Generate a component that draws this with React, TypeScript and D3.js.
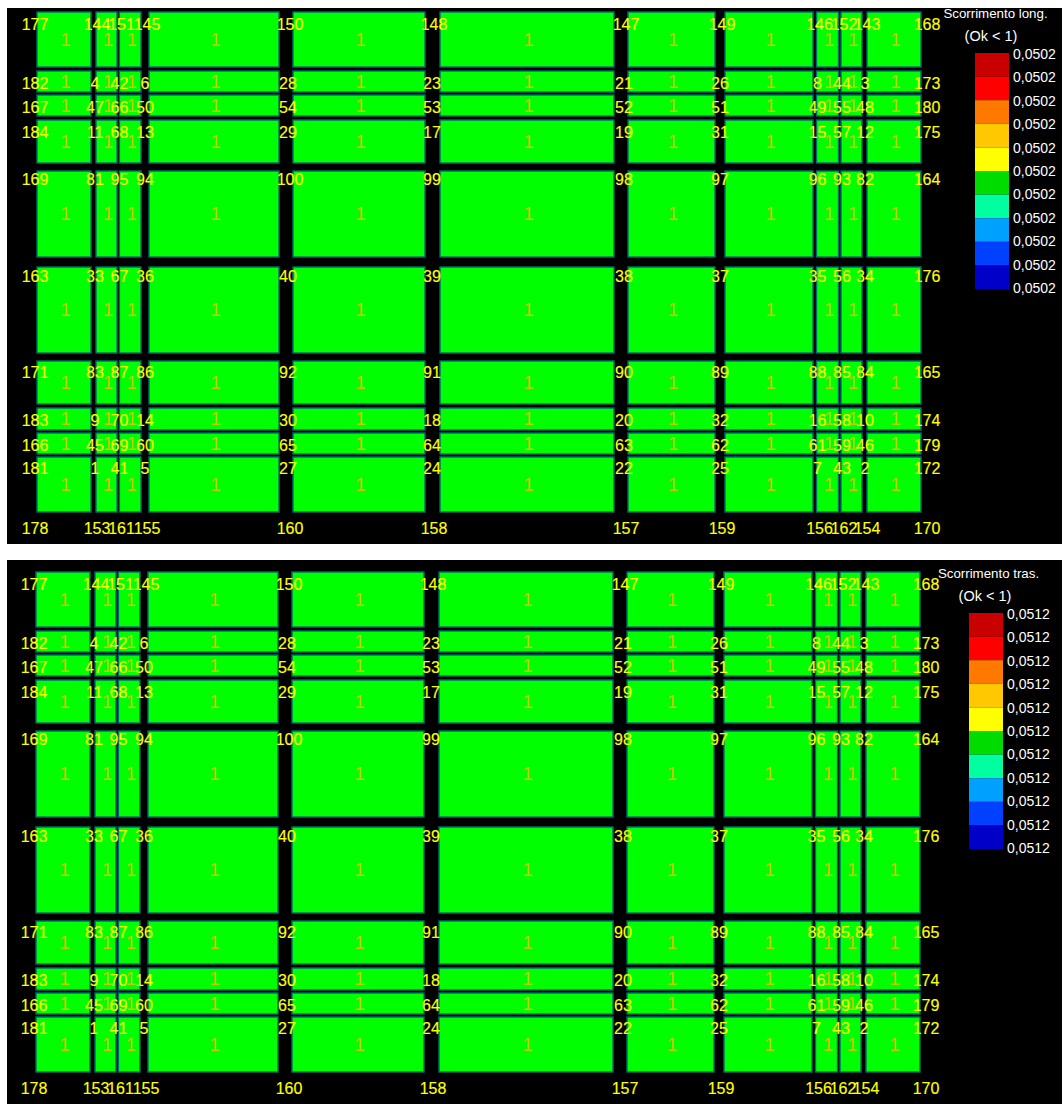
import React from "react";
import * as d3 from "d3";

// Section labels of the plan: every bay carries the index 1
const bayIndex = [1, 1, 1, 1, 1, 1, 1, 1, 1, 1, 1];
// Node numbers, strip by strip
const nodeRows = [
  [177, 144, 151, 145, 150, 148, 147, 149, 146, 152, 143, 168],
  [182, 4, 42, 6, 28, 23, 21, 26, 8, 44, 3, 173],
  [167, 47, 66, 50, 54, 53, 52, 51, 49, 55, 48, 180],
  [184, 11, 68, 13, 29, 17, 19, 31, 15, 57, 12, 175],
  [169, 81, 95, 94, 100, 99, 98, 97, 96, 93, 82, 164],
  [163, 33, 67, 36, 40, 39, 38, 37, 35, 56, 34, 176],
  [171, 83, 87, 86, 92, 91, 90, 89, 88, 85, 84, 165],
  [183, 9, 70, 14, 30, 18, 20, 32, 16, 58, 10, 174],
  [166, 45, 69, 60, 65, 64, 63, 62, 61, 59, 46, 179],
  [181, 1, 41, 5, 27, 24, 22, 25, 7, 43, 2, 172],
  [178, 153, 161, 155, 160, 158, 157, 159, 156, 162, 154, 170],
];
// Plan stations in model units
const bayStart = [0, 59, 82.4, 112, 256, 403, 591, 688, 779.5, 804, 830];
const bayEnd = [54, 80, 104, 242, 388, 577, 678, 776, 801.5, 825, 884];
const stripStart = [0, 59, 83, 108, 159, 255, 349, 396, 421, 445];
const stripEnd = [55, 80, 104, 151, 245, 341, 392, 418, 442, 500];
const nodeStationX = [-4, 58, 82.5, 108, 251, 395, 587, 683, 780.5, 805, 828, 888];
const nodeStationY = [12, 71, 95, 120, 167, 264, 360, 408, 433, 456, 516];
const legendColors = ["#c80000", "#ff0000", "#ff7800", "#ffc800", "#ffff00", "#00dc00", "#00ffa0", "#00a0ff", "#0040ff", "#0000c8"];
const slipLong = [0.0502, 0.0502, 0.0502, 0.0502, 0.0502, 0.0502, 0.0502, 0.0502, 0.0502, 0.0502, 0.0502];
const slipTras = [0.0512, 0.0512, 0.0512, 0.0512, 0.0512, 0.0512, 0.0512, 0.0512, 0.0512, 0.0512, 0.0512];
const cellColor = "#00ff00";
const FONT = "'Liberation Sans', Arial, sans-serif";

type PanelProps = {
  top: number; bottom: number; dx: number; dy: number;
  title: string; titleX: number; legendX: number; slip: number[];
};

function Panel({ top, bottom, dx, dy, title, titleX, legendX, slip }: PanelProps) {
  const x = d3.scaleLinear().domain([0, 884]).range([37 + dx, 921 + dx]);
  const y = d3.scaleLinear().domain([0, 500]).range([12 + dy, 512 + dy]);
  const ly = d3.scaleLinear().domain([0, legendColors.length]).range([53 + dy, 289 + dy]);
  const tickY = d3.scaleLinear().domain([0, slip.length - 1]).range([54 + dy, 288 + dy]);
  return (
    <g fontFamily={FONT}>
      <rect x={7} y={top} width={1055} height={bottom - top} fill="#000" />
      {stripStart.map((ys, r) =>
        bayStart.map((xs, c) => (
          <rect key={`${r}-${c}`} x={x(xs)} y={y(ys)} width={x(bayEnd[c]) - x(xs)} height={y(stripEnd[r]) - y(ys)}
            fill={cellColor} stroke="#006c6c" strokeWidth={1.4} />
        ))
      )}
      {stripStart.map((ys, r) =>
        bayStart.map((xs, c) => (
          <text key={`i${r}-${c}`} x={x((xs + bayEnd[c]) / 2) + 1.5} y={y((ys + stripEnd[r]) / 2)} dy="0.36em"
            textAnchor="middle" fontSize={18} fill="#c8c800">{bayIndex[c]}</text>
        ))
      )}
      {nodeRows.map((row, r) =>
        row.map((n, c) => (
          <text key={`n${r}-${c}`} x={x(nodeStationX[c]) + (n > 99 ? 2 : 0)} y={y(nodeStationY[r])} dy="0.36em"
            textAnchor="middle" fontSize={16} fill="#ffff00"
            stroke="#ffff00" strokeWidth={0.15}>{n}</text>
        ))
      )}
      <text x={titleX} y={13 + dy} dy="0.36em" textAnchor="middle" fontSize={13.3} fill="#fff">{title}</text>
      <text x={legendX + 16} y={36 + dy} dy="0.36em" textAnchor="middle" fontSize={14.5} fill="#fff">(Ok &lt; 1)</text>
      {legendColors.map((col, i) => (
        <rect key={col} x={legendX} y={ly(i)} width={34} height={ly(i + 1) - ly(i)} fill={col} />
      ))}
      {slip.map((v, i) => (
        <text key={i} x={legendX + 38} y={tickY(i)} dy="0.36em" fontSize={14} fill="#fff">
          {d3.format(".4f")(v).replace(".", ",")}
        </text>
      ))}
    </g>
  );
}

export default function App() {
  return (
    <svg width={1062} height={1104} style={{ position: "fixed", left: 0, top: 0, display: "block" }}>
      <rect width={1062} height={1104} fill="#fff" />
      <Panel top={8} bottom={544} dx={0} dy={0} title="Scorrimento long." titleX={995.5} legendX={975} slip={slipLong} />
      <Panel top={560} bottom={1104} dx={-1} dy={560} title="Scorrimento tras." titleX={988.5} legendX={969} slip={slipTras} />
    </svg>
  );
}
